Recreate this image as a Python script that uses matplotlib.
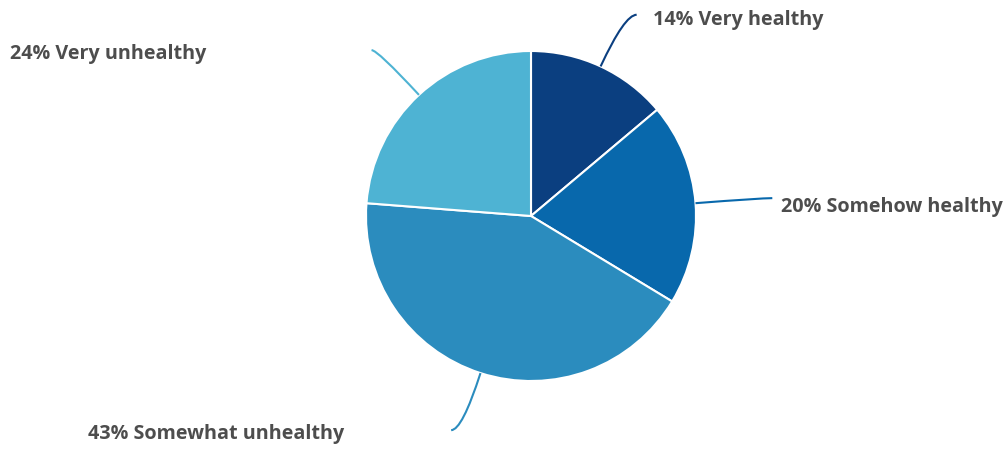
import numpy as np
import matplotlib
matplotlib.use("Agg")
import matplotlib.pyplot as plt
from matplotlib.path import Path
from matplotlib.patches import PathPatch

# data
categories = ["Very healthy", "Somehow healthy", "Somewhat unhealthy", "Very unhealthy"]
shares = [14, 20, 43, 24]
colors = ["#0b3f80", "#0868ac", "#2b8cbe", "#4eb3d3"]

W, H = 1006, 449
fig = plt.figure(figsize=(W / 100, H / 100), dpi=100)
ax = fig.add_axes([0, 0, 1, 1])

cx, cy, r = 531, H - 216, 165
ax.pie(shares, colors=colors, startangle=90, counterclock=False,
       center=(cx, cy), radius=r, frame=True,
       wedgeprops=dict(edgecolor="white", linewidth=1.5))
ax.set_xlim(0, W)
ax.set_ylim(0, H)
ax.set_aspect("equal")
ax.axis("off")

# label placement (pixel positions from top-left)
label_pos = [(653, 20), (781, 207), (88, 434), (10, 54)]
elbow_r = [222, 230, 225, 226]
tails = [12, 12, -11, -6]

total = sum(shares)
cum = np.cumsum([0] + shares[:-1])
for i, (cat, val) in enumerate(zip(categories, shares)):
    mid = (cum[i] + val / 2) / total * 360
    ang = np.deg2rad(90 - mid)
    p0 = (cx + r * np.cos(ang), cy + r * np.sin(ang))
    p1 = (cx + elbow_r[i] * np.cos(ang), cy + elbow_r[i] * np.sin(ang))
    p2 = (p1[0] + tails[i], p1[1])
    path = Path([p0, p1, p2], [Path.MOVETO, Path.CURVE3, Path.CURVE3])
    ax.add_patch(PathPatch(path, fc="none", ec=colors[i], lw=1.5))
    lx, ly = label_pos[i]
    ax.text(lx, H - ly, f"{val}% {cat}", ha="left", va="center",
            fontsize=14.2, fontweight="bold", family="Open Sans", color="#4d4d4d")

fig.savefig("out.png", dpi=100)
